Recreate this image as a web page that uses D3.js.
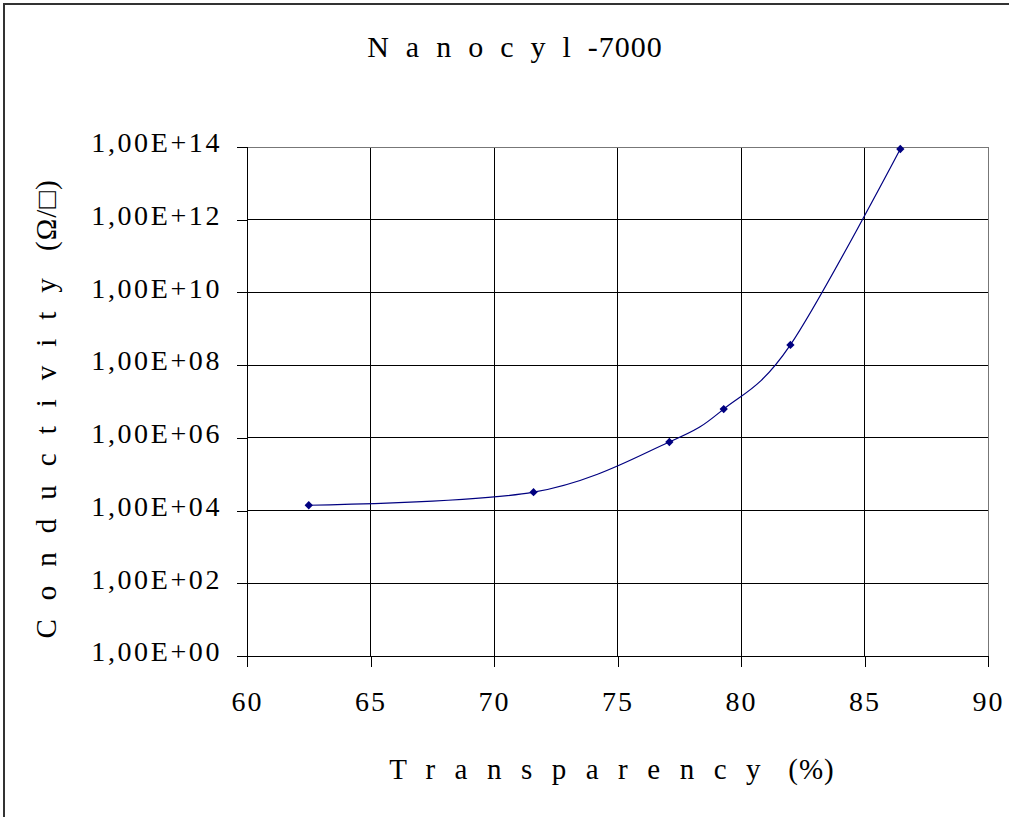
<!DOCTYPE html>
<html>
<head>
<meta charset="utf-8">
<script src="https://cdn.jsdelivr.net/npm/d3@7"></script>
<style>
  body { margin: 0; background: #fff; }
  text { font-family: "Liberation Serif", "DejaVu Serif", serif; fill: #000; }
</style>
</head>
<body>
<div id="chart"></div>
<script>
// values
const transparency = [62.5, 71.6, 77.1, 79.3, 82.0, 86.45];
const conductivity = [1.4e4, 3.2e4, 7.7e5, 6.2e6, 3.6e8, 8.8e13];
const xTicks = [60, 65, 70, 75, 80, 85, 90];
const yTicks = [1e0, 1e2, 1e4, 1e6, 1e8, 1e10, 1e12, 1e14];

const width = 1009, height = 817;
const margin = {top: 147, right: 21, bottom: 161, left: 247};

const svg = d3.select('#chart')
  .append('svg')
    .attr('width', width)
    .attr('height', height);

// outer frame of the chart object
svg.append('rect')
  .attr('x', 4).attr('y', 4)
  .attr('width', width + 10).attr('height', height + 10)
  .attr('fill', 'none')
  .attr('stroke', '#333')
  .attr('stroke-width', 2);

const x = d3.scaleLinear()
  .domain([60, 90])
  .range([margin.left, width - margin.right]);

const y = d3.scaleLog()
  .domain([1, 1e14])
  .range([height - margin.bottom, margin.top]);

// grid
svg.append('g')
  .selectAll('line')
  .data(xTicks.slice(1))
  .join('line')
    .attr('x1', d => x(d)).attr('x2', d => x(d))
    .attr('y1', y(1e14)).attr('y2', y(1))
    .attr('stroke', d => d === 90 ? '#777' : '#000')
    .attr('stroke-width', 1)
    .attr('shape-rendering', 'crispEdges');

svg.append('g')
  .selectAll('line')
  .data(yTicks.slice(1))
  .join('line')
    .attr('x1', x(60)).attr('x2', x(90))
    .attr('y1', d => y(d)).attr('y2', d => y(d))
    .attr('stroke', d => d === 1e14 ? '#777' : '#000')
    .attr('stroke-width', 1)
    .attr('shape-rendering', 'crispEdges');

// axes
const fmt = d => '1,00E+' + String(Math.round(Math.log10(d))).padStart(2, '0');

const yAxis = svg.append('g')
  .attr('transform', `translate(${x(60)},0)`)
  .call(d3.axisLeft(y).tickValues(yTicks).tickFormat(fmt).tickSizeOuter(0).tickSize(10).tickPadding(15));

const xAxis = svg.append('g')
  .attr('transform', `translate(0,${y(1)})`)
  .call(d3.axisBottom(x).tickValues(xTicks).tickSizeOuter(0).tickSize(11).tickPadding(24));

[yAxis, xAxis].forEach(ax => {
  ax.select('.domain').attr('stroke', '#000').attr('shape-rendering', 'crispEdges');
  ax.selectAll('.tick line').attr('stroke', '#000').attr('shape-rendering', 'crispEdges');
  ax.selectAll('text')
    .attr('font-family', '"Liberation Serif", serif')
    .attr('font-size', 28)
    .attr('fill', '#000');
});
yAxis.selectAll('text').attr('dy', '0.17em').attr('letter-spacing', 2.6);
xAxis.selectAll('text').attr('dy', '0.71em').attr('letter-spacing', 2);

// line + markers
const pts = transparency.map((t, i) => [t, conductivity[i]]);

svg.append('path')
  .datum(pts)
  .attr('fill', 'none')
  .attr('stroke', '#000080')
  .attr('stroke-width', 1.2)
  .attr('d', d3.line()
    .x(d => x(d[0]))
    .y(d => y(d[1]))
    .curve(d3.curveCardinal.tension(0)));

svg.append('g')
  .selectAll('path')
  .data(pts)
  .join('path')
    .attr('transform', d => `translate(${x(d[0])},${y(d[1])})`)
    .attr('d', d3.symbol(d3.symbolDiamond2, 44))
    .attr('fill', '#000080');

// title
const title = svg.append('text')
  .attr('x', 515)
  .attr('y', 57)
  .attr('text-anchor', 'middle')
  .attr('font-size', 30);
title.append('tspan').attr('letter-spacing', 17).text('Nanocyl');
title.append('tspan').attr('letter-spacing', 1).text('-7000');

// axis titles
const xTitle = svg.append('text')
  .attr('x', 612)
  .attr('y', 779)
  .attr('text-anchor', 'middle')
  .attr('font-size', 29);
xTitle.append('tspan').attr('letter-spacing', 19.5).text('Transparency');
xTitle.append('tspan').attr('letter-spacing', 1).text(' (%)');

const yTitle = svg.append('text')
  .attr('transform', 'translate(56,409) rotate(-90)')
  .attr('text-anchor', 'middle')
  .attr('font-size', 29);
yTitle.append('tspan').attr('letter-spacing', 19).text('Conductivity');
yTitle.append('tspan').attr('letter-spacing', 1).text(' (Ω/□)');
</script>
</body>
</html>
